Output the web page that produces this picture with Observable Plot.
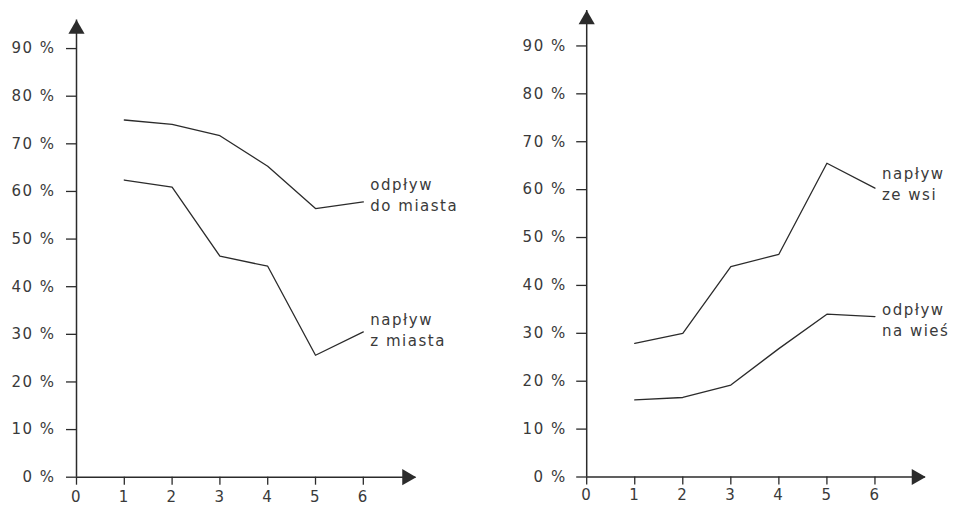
<!DOCTYPE html>
<html>
<head>
<meta charset="utf-8">
<script src="https://cdn.jsdelivr.net/npm/d3@7"></script>
<script src="https://cdn.jsdelivr.net/npm/@observablehq/plot@0.6"></script>
<style>
  html, body { margin: 0; padding: 0; background: #fff; }
  #wrap { display: flex; flex-direction: row; width: 956px; height: 507px; overflow: hidden; }
  #wrap svg { display: block; }
</style>
</head>
<body>
<div id="wrap"><div id="left"></div><div id="right"></div></div>
<script>
// ---- data ----
const periods = [1, 2, 3, 4, 5, 6];
const xTicks = [0, 1, 2, 3, 4, 5, 6];
const yTicks = [0, 10, 20, 30, 40, 50, 60, 70, 80, 90];

// left panel
const odplywDoMiasta = [75.0, 74.1, 71.7, 65.3, 56.4, 57.8];
const naplywZMiasta  = [62.4, 60.9, 46.4, 44.3, 25.6, 30.5];
// right panel
const naplywZeWsi    = [27.9, 30.0, 43.9, 46.5, 65.5, 60.3];
const odplywNaWies   = [16.1, 16.6, 19.2, 26.8, 34.0, 33.5];

const labelsLeft  = ["odpływ\ndo miasta", "napływ\nz miasta"];
const labelsRight = ["napływ\nze wsi", "odpływ\nna wieś"];

const ink = "#2b2b2b";
const textInk = "#3a3a3a";

function rows(values) {
  return periods.map((p, i) => ({x: p, y: values[i]}));
}

function panel({width, marginLeft, marginRight, marginTop, marginBottom,
                xMax, yMax, series, labels, labelDy, xTickPadding, yTickPadding}) {
  const marks = [
    // axes lines with arrow heads
    Plot.ruleY([0], {x1: 0, x2: xMax, stroke: ink, strokeWidth: 1.5}),
    Plot.ruleX([0], {y1: 0, y2: yMax, stroke: ink, strokeWidth: 1.5}),
    Plot.dot([xMax], {x: d => d, y: 0, dx: -9, symbol: "triangle", r: 6, fill: ink, stroke: "none", rotate: 90}),
    Plot.dot([yMax], {x: 0, y: d => d, dy: 9, symbol: "triangle", r: 6, fill: ink, stroke: "none"}),
    Plot.axisY(yTicks, {label: null, tickSize: 10, tickPadding: yTickPadding, tickFormat: d => `${d} %`,
                        stroke: ink, strokeWidth: 1.3, fill: textInk, fontSize: "15px"}),
    Plot.axisX(xTicks, {label: null, tickSize: 8, tickPadding: xTickPadding, tickFormat: d => `${d}`,
                        stroke: ink, strokeWidth: 1.3, fill: textInk, fontSize: "15px"})
  ];
  series.forEach((vals, i) => {
    const r = rows(vals);
    marks.push(Plot.line(r, {x: "x", y: "y", stroke: ink, strokeWidth: 1.3}));
    marks.push(Plot.text([r[r.length - 1]], {
      x: "x", y: "y", text: () => labels[i], textAnchor: "start", lineAnchor: "middle",
      lineHeight: 1.4, dx: 7, dy: labelDy[i], fill: textInk, fontSize: "15px"
    }));
  });
  const svg = Plot.plot({
    width, height: 507,
    marginLeft, marginRight, marginTop, marginBottom,
    x: {domain: [0, xMax]},
    y: {domain: [0, yMax]},
    style: {fontFamily: "'DejaVu Sans', sans-serif", fontSize: "15px", background: "#fff", color: textInk},
    marks
  });
  svg.style.letterSpacing = "1.5px";
  return svg;
}

document.getElementById("left").appendChild(panel({
  width: 480, marginLeft: 76, marginRight: 64.6, marginTop: 19.5, marginBottom: 30.3,
  xMax: 7.1, yMax: 96,
  series: [odplywDoMiasta, naplywZMiasta], labels: labelsLeft, labelDy: [-8, -3],
  xTickPadding: 6, yTickPadding: 11
}));
document.getElementById("right").appendChild(panel({
  width: 476, marginLeft: 106.2, marginRight: 31.1, marginTop: 10, marginBottom: 30.5,
  xMax: 7.05, yMax: 97.4,
  series: [naplywZeWsi, odplywNaWies], labels: labelsRight, labelDy: [-5, 2],
  xTickPadding: 4, yTickPadding: 10
}));
</script>
</body>
</html>
